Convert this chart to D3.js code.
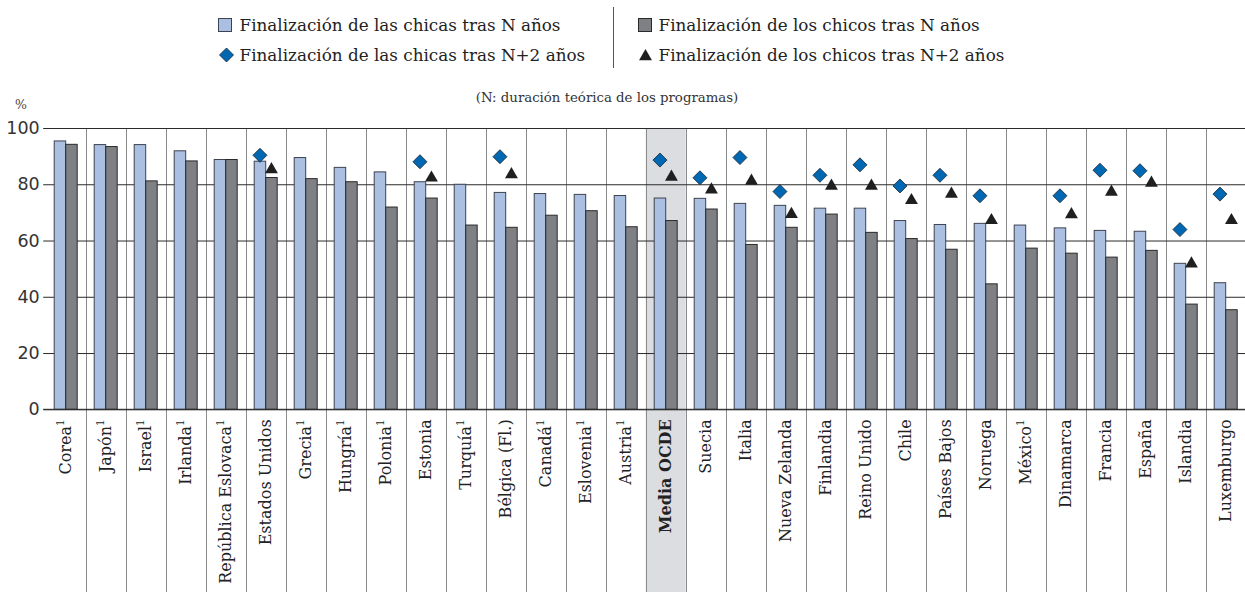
<!DOCTYPE html>
<html>
<head>
<meta charset="utf-8">
<script src="https://cdn.jsdelivr.net/npm/d3@7"></script>
<style>
  body { margin: 0; background: #fff; }
  svg { display: block; }
</style>
</head>
<body>
<svg id="chart"></svg>
<script>
// Data
const countries = ["Corea", "Japón", "Israel", "Irlanda", "República Eslovaca", "Estados Unidos",
  "Grecia", "Hungría", "Polonia", "Estonia", "Turquía", "Bélgica (Fl.)", "Canadá", "Eslovenia",
  "Austria", "Media OCDE", "Suecia", "Italia", "Nueva Zelanda", "Finlandia", "Reino Unido", "Chile",
  "Países Bajos", "Noruega", "México", "Dinamarca", "Francia", "España", "Islandia", "Luxemburgo"];
const footnote = [1, 1, 1, 1, 1, 0, 1, 1, 1, 0, 1, 0, 1, 1, 1, 0, 0, 0, 0, 0, 0, 0, 0, 0, 1, 0, 0, 0, 0, 0];
const girlsN = [95.4, 94.1, 94.1, 91.9, 88.8, 88.2, 89.5, 86.0, 84.4, 80.9, 80.0, 77.1, 76.7, 76.4,
  76.0, 75.1, 75.0, 73.2, 72.5, 71.5, 71.5, 67.1, 65.7, 66.1, 65.5, 64.5, 63.6, 63.3, 51.9, 45.0];
const boysN = [94.2, 93.4, 81.2, 88.3, 88.8, 82.4, 82.0, 80.9, 71.9, 75.1, 65.5, 64.7, 69.0, 70.6,
  64.9, 67.1, 71.2, 58.6, 64.7, 69.4, 62.9, 60.7, 56.9, 44.6, 57.3, 55.5, 54.1, 56.5, 37.4, 35.4];
const girlsN2 = [null, null, null, null, null, 90.3, null, null, null, 88.0, null, 89.8, null, null,
  null, 88.6, 82.3, 89.5, 77.4, 83.2, 86.9, 79.4, 83.2, 75.9, null, 75.9, 85.0, 84.8, 63.9, 76.5];
const boysN2 = [null, null, null, null, null, 85.8, null, null, null, 82.8, null, 84.0, null, null,
  null, 83.1, 78.6, 81.7, 69.9, 79.9, 79.9, 74.8, 77.1, 67.7, null, 69.8, 77.8, 81.0, 52.3, 67.7];
const yTicks = [0, 20, 40, 60, 80, 100];
const highlight = "Media OCDE";

const width = 1245;
const height = 592;
const margin = { top: 128, left: 45.7, right: 0, bottom: 182.7 };

const colorGirls = "#aabfe1";
const colorBoys = "#7f8084";
const colorDiamond = "#0068b3";
const colorTriangle = "#1f1f1f";
const serif = "'DejaVu Serif', serif";
const sans = "'DejaVu Sans', sans-serif";

const svg = d3.select("#chart")
  .attr("width", width)
  .attr("height", height)
  .attr("font-family", serif);

const rows = countries.map((c, i) => ({
  name: c, note: footnote[i], girls: girlsN[i], boys: boysN[i], girls2: girlsN2[i], boys2: boysN2[i]
}));

const x = d3.scaleBand()
  .domain(countries)
  .range([margin.left, width + 0.7 - margin.right])
  .padding(0);

const xSub = d3.scaleBand()
  .domain(["girls", "boys"])
  .range([0, x.bandwidth()])
  .paddingInner(0)
  .paddingOuter(0.74);

const y = d3.scaleLinear()
  .domain([0, 100])
  .range([height - margin.bottom, margin.top]);

// highlighted OECD average column
svg.append("rect")
  .attr("x", x(highlight))
  .attr("y", y(100))
  .attr("width", x.bandwidth())
  .attr("height", height - y(100))
  .attr("fill", "#dcdde0");

// vertical separators between countries
svg.append("g")
  .selectAll("line")
  .data(countries.slice(1))
  .join("line")
  .attr("x1", d => Math.round(x(d)) + 0.5)
  .attr("x2", d => Math.round(x(d)) + 0.5)
  .attr("y1", y(100))
  .attr("y2", height)
  .attr("stroke", "#8a8a8a")
  .attr("stroke-width", 1);

// horizontal grid lines + y labels
const yAxis = svg.append("g")
  .attr("transform", `translate(${margin.left},0)`)
  .call(d3.axisLeft(y).tickValues(yTicks).tickSize(-(width - margin.left)).tickSizeOuter(0).tickPadding(6));
yAxis.select(".domain").remove();
yAxis.selectAll(".tick line")
  .attr("x1", -2.5)
  .attr("stroke", "#2a2a2a");
yAxis.selectAll(".tick text")
  .attr("font-family", sans)
  .attr("font-size", "17.5px")
  .attr("fill", "#333");

svg.append("text")
  .attr("x", 15)
  .attr("y", 109)
  .attr("font-size", "12.5px")
  .attr("fill", "#444")
  .text("%");

// bars
const groups = svg.append("g")
  .selectAll("g")
  .data(rows)
  .join("g")
  .attr("transform", d => `translate(${x(d.name)},0)`);

groups.append("rect")
  .attr("x", xSub("girls"))
  .attr("y", d => y(d.girls))
  .attr("width", xSub.bandwidth())
  .attr("height", d => y(0) - y(d.girls))
  .attr("fill", colorGirls)
  .attr("stroke", "#3d4350")
  .attr("stroke-width", 1);

groups.append("rect")
  .attr("x", xSub("boys"))
  .attr("y", d => y(d.boys))
  .attr("width", xSub.bandwidth())
  .attr("height", d => y(0) - y(d.boys))
  .attr("fill", colorBoys)
  .attr("stroke", "#2a2a2a")
  .attr("stroke-width", 1);

// zero line on top
svg.append("line")
  .attr("x1", margin.left - 2.5)
  .attr("x2", width)
  .attr("y1", y(0))
  .attr("y2", y(0))
  .attr("stroke", "#2a2a2a");

// N+2 markers
const diamond = d3.symbol().type(d3.symbolSquare).size(98);
const triangle = d3.symbol().type(d3.symbolTriangle).size(72);

groups.filter(d => d.girls2 != null)
  .append("path")
  .attr("d", diamond)
  .attr("transform", d => `translate(${xSub("girls") + xSub.bandwidth() / 2},${y(d.girls2)}) rotate(45)`)
  .attr("fill", colorDiamond)
  .attr("stroke", "#1d2b3a")
  .attr("stroke-width", 0.8);

groups.filter(d => d.boys2 != null)
  .append("path")
  .attr("d", triangle)
  .attr("transform", d => `translate(${xSub("boys") + xSub.bandwidth() / 2},${y(d.boys2) + 1.5})`)
  .attr("fill", colorTriangle);

// country labels (rotated)
const labels = svg.append("g")
  .selectAll("text")
  .data(rows)
  .join("text")
  .attr("transform", d => `translate(${x(d.name) + x.bandwidth() / 2},${y(0) + 10}) rotate(-90)`)
  .attr("text-anchor", "end")
  .attr("dy", "0.36em")
  .attr("font-size", "16px")
  .attr("font-weight", d => d.name === highlight ? "bold" : "normal")
  .attr("fill", "#222");
labels.append("tspan").text(d => d.name);
labels.filter(d => d.note)
  .append("tspan")
  .attr("font-size", "10.5px")
  .attr("dy", "-0.7em")
  .text("1");

// --- Legend ---
const legend = svg.append("g").attr("font-size", "16.8px").attr("fill", "#222");

const leftX = 218.5, rightX = 638.5, row1 = 25, row2 = 55;

legend.append("rect")
  .attr("x", leftX).attr("y", row1 - 6.5).attr("width", 13).attr("height", 13)
  .attr("fill", colorGirls).attr("stroke", "#3d4350");
legend.append("text")
  .attr("x", leftX + 21).attr("y", row1 + 6)
  .text("Finalización de las chicas tras N años");

legend.append("path")
  .attr("d", diamond)
  .attr("transform", `translate(${leftX + 8},${row2}) rotate(45)`)
  .attr("fill", colorDiamond).attr("stroke", "#1d2b3a").attr("stroke-width", 0.8);
legend.append("text")
  .attr("x", leftX + 21).attr("y", row2 + 6)
  .text("Finalización de las chicas tras N+2 años");

legend.append("line")
  .attr("x1", 613.5).attr("x2", 613.5).attr("y1", 7).attr("y2", 68)
  .attr("stroke", "#555");

legend.append("rect")
  .attr("x", rightX).attr("y", row1 - 6.5).attr("width", 13).attr("height", 13)
  .attr("fill", colorBoys).attr("stroke", "#2a2a2a");
legend.append("text")
  .attr("x", rightX + 20).attr("y", row1 + 6)
  .text("Finalización de los chicos tras N años");

legend.append("path")
  .attr("d", triangle)
  .attr("transform", `translate(${rightX + 7},${row2 + 1.5})`)
  .attr("fill", colorTriangle);
legend.append("text")
  .attr("x", rightX + 20).attr("y", row2 + 6)
  .text("Finalización de los chicos tras N+2 años");

svg.append("text")
  .attr("x", 607)
  .attr("y", 102)
  .attr("text-anchor", "middle")
  .attr("font-size", "13.3px")
  .attr("fill", "#333")
  .text("(N: duración teórica de los programas)");
</script>
</body>
</html>
